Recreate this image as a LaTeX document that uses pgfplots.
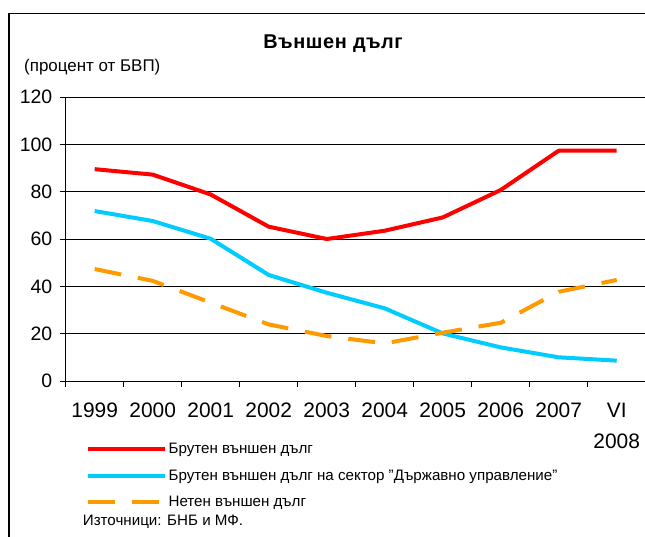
\documentclass[border=0pt]{standalone}
\usepackage{pgfplots}
\pgfplotsset{compat=1.18}
\usepackage{fontspec}
\setmainfont{Liberation Sans}
\definecolor{cred}{RGB}{255,0,0}
\definecolor{cblue}{RGB}{0,204,255}
\definecolor{corange}{RGB}{255,153,0}
\begin{document}
\begin{tikzpicture}[x=1bp,y=1bp]
\useasboundingbox (0,0) rectangle (645,537);
\fill[white] (0,0) rectangle (645,537);
\draw[line width=1.6bp] (9,-10) -- (9,523.5) -- (660,523.5);
\node[font=\bfseries\fontsize{20}{24}\selectfont\addfontfeatures{LetterSpace=3}] at (333,493.7) {Външен дълг};
\node[anchor=west, font=\fontsize{17}{20}\selectfont, inner sep=0pt] at (24,470.3) {(процент от БВП)};
\begin{axis}[
  at={(65.7bp,156bp)}, anchor=south west,
  scale only axis, width=580bp, height=284bp,
  xmin=0, xmax=10, ymin=0, ymax=120,
  axis lines*=left,
  axis line style={-, line width=0.8bp},
  ytick={0,20,...,120}, ymajorgrids,
  grid style={black, line width=0.8bp},
  xtick={0,...,10},
  x tick label as interval,
  xticklabels={1999,2000,2001,2002,2003,2004,2005,2006,2007,{VI\\2008}},
  tick align=outside, major tick length=6bp,
  tick style={black, line width=0.8bp},
  xticklabel style={align=center, anchor=north, yshift=-12.5bp, font=\fontsize{21}{31}\selectfont},
  yticklabel style={xshift=-4bp, font=\fontsize{19.5}{22}\selectfont},
  /pgf/number format/assume math mode=true,
  legend style={at={(axis description cs:0.034,-0.212)}, anchor=north west,
    draw=none, fill=none, font=\fontsize{15.2}{18}\selectfont,
    row sep=10.5bp, inner sep=0pt},
  legend cell align=left,
  legend image code/.code={\draw[#1] (0bp,0bp) -- (77bp,0bp);},
]
\addplot[cred, line width=4bp, line join=round] coordinates {
(0.5,89.5) (1.5,87.2) (2.5,78.8) (3.5,65.2) (4.5,60.0) (5.5,63.5) (6.5,69.1) (7.5,80.7) (8.5,97.3) (9.5,97.3)};
\addlegendentry{Брутен външен дълг}
\addplot[cblue, line width=4bp, line join=round] coordinates {
(0.5,71.8) (1.5,67.6) (2.5,60.1) (3.5,44.8) (4.5,37.3) (5.5,30.7) (6.5,20.1) (7.5,14.2) (8.5,10.0) (9.5,8.6)};
\addlegendentry{Брутен външен дълг на сектор "Държавно управление"}
\addplot[corange, line width=4bp, line join=round, dash pattern=on 27bp off 17bp] coordinates {
(0.5,47.3) (1.5,42.3) (2.5,33.1) (3.5,23.9) (4.5,19.0) (5.5,15.9) (6.5,20.4) (7.5,24.6) (8.5,37.7) (9.5,42.7)};
\addlegendentry{Нетен външен дълг}
\end{axis}
\node[anchor=west, inner sep=0pt, font=\fontsize{15.2}{18}\selectfont] at (82.7,15) {Източници: БНБ и МФ.};
\end{tikzpicture}
\end{document}
